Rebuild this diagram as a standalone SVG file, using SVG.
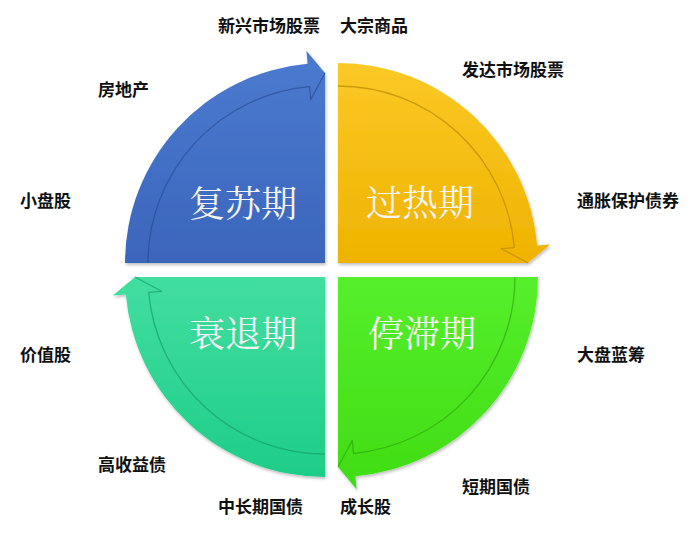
<svg xmlns="http://www.w3.org/2000/svg" width="699" height="543" viewBox="0 0 699 543">
  <defs>
    <linearGradient id="gBlue" x1="0" y1="0" x2="0" y2="1">
      <stop offset="0" stop-color="#4b7bd0"/>
      <stop offset="1" stop-color="#3b65bb"/>
    </linearGradient>
    <linearGradient id="gYellow" x1="0" y1="0" x2="0" y2="1">
      <stop offset="0" stop-color="#fbc926"/>
      <stop offset="1" stop-color="#efb300"/>
    </linearGradient>
    <linearGradient id="gGreen" x1="0" y1="0" x2="0" y2="1">
      <stop offset="0" stop-color="#56ef2c"/>
      <stop offset="1" stop-color="#40dc14"/>
    </linearGradient>
    <linearGradient id="gTeal" x1="0" y1="0" x2="0" y2="1">
      <stop offset="0" stop-color="#42dea0"/>
      <stop offset="1" stop-color="#1ecd88"/>
    </linearGradient>
    <filter id="shadow" x="-10%" y="-10%" width="120%" height="120%">
      <feDropShadow dx="1" dy="2" stdDeviation="1.5" flood-color="#000" flood-opacity="0.25"/>
    </filter>
  </defs>
  <style>
    .phase { font-family: 'Noto Serif CJK SC', 'Noto Sans CJK SC', serif; font-size: 36px; fill: #f4f4f4; text-anchor: middle; }
    .lbl { font-family: 'Noto Sans CJK SC', 'Liberation Sans', sans-serif; font-size: 17px; font-weight: bold; fill: #111; }
    .edge { fill: none; stroke-width: 1.3; stroke-linejoin: round; }
  </style>
  <rect width="699" height="543" fill="#ffffff"/>

  <g id="recovery">
    <path d="M325,263 L125,263 A200,200 0 0 1 307.6,63.8 L306.4,50.8 L325,73 Z" fill="url(#gBlue)" filter="url(#shadow)"/>
    <path class="edge" d="M148,263 A177,177 0 0 1 309.6,86.7 L310.7,99.6 L325,73" stroke="#2a4d94" stroke-opacity="0.7"/>
    <text class="phase" x="243" y="217">复苏期</text>
  </g>

  <g id="overheat">
    <path d="M338,263 L338,63 A200,200 0 0 1 537.2,245.6 L550.2,244.4 L528,263 Z" fill="url(#gYellow)" filter="url(#shadow)"/>
    <path class="edge" d="M338,86 A177,177 0 0 1 514.3,247.6 L501.4,248.7 L528,263" stroke="#b98700" stroke-opacity="0.7"/>
    <text class="phase" x="420" y="216">过热期</text>
  </g>

  <g id="stagflation">
    <path d="M338,277 L538,277 A200,200 0 0 1 355.4,476.2 L356.6,489.2 L338,467 Z" fill="url(#gGreen)" filter="url(#shadow)"/>
    <path class="edge" d="M515,277 A177,177 0 0 1 353.4,453.3 L352.3,440.4 L338,467" stroke="#2fa810" stroke-opacity="0.7"/>
    <text class="phase" x="422" y="347">停滞期</text>
  </g>

  <g id="recession">
    <path d="M325,277 L325,477 A200,200 0 0 1 125.8,294.4 L112.8,295.6 L135,277 Z" fill="url(#gTeal)" filter="url(#shadow)"/>
    <path class="edge" d="M325,454 A177,177 0 0 1 148.7,292.4 L161.6,291.3 L135,277" stroke="#16a06a" stroke-opacity="0.7"/>
    <text class="phase" x="243" y="347">衰退期</text>
  </g>

  <g id="labels">
    <text class="lbl" x="218" y="32">新兴市场股票</text>
    <text class="lbl" x="340" y="32">大宗商品</text>
    <text class="lbl" x="98" y="96">房地产</text>
    <text class="lbl" x="462" y="76">发达市场股票</text>
    <text class="lbl" x="20" y="207">小盘股</text>
    <text class="lbl" x="577" y="207">通胀保护债券</text>
    <text class="lbl" x="20" y="361">价值股</text>
    <text class="lbl" x="577" y="361">大盘蓝筹</text>
    <text class="lbl" x="98" y="471">高收益债</text>
    <text class="lbl" x="462" y="493">短期国债</text>
    <text class="lbl" x="218" y="513">中长期国债</text>
    <text class="lbl" x="340" y="513">成长股</text>
  </g>
</svg>
